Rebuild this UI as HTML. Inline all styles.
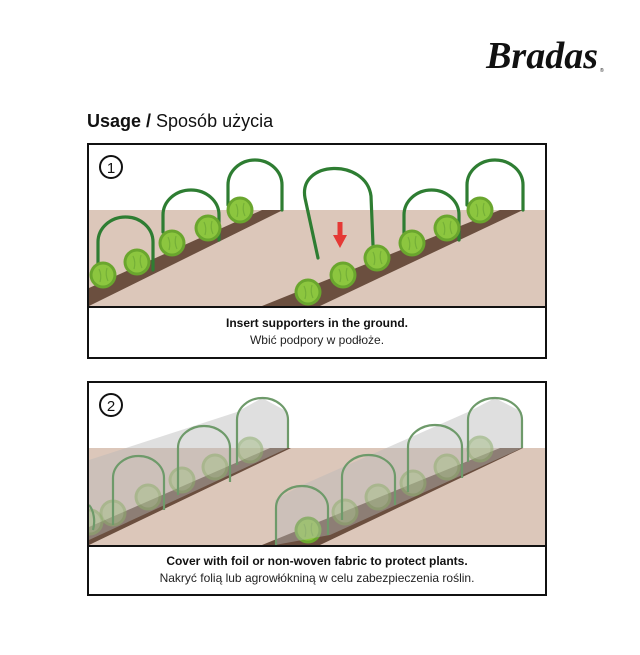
<!DOCTYPE html>
<html><head><meta charset="utf-8"><style>
body{margin:0;background:#fff;width:640px;height:650px;overflow:hidden;font-family:"Liberation Sans",sans-serif}
</style></head><body>
<svg width="640" height="650" viewBox="0 0 640 650" xmlns="http://www.w3.org/2000/svg">
<defs>
<g id="cab"><circle r="13.5" fill="#6aa62e"/><circle r="10.5" fill="#8cc63f"/><path d="M-4,-6 Q-1,0 -3,7 M4,-7 Q2,0 5,6" stroke="#75b038" stroke-width="1.2" fill="none"/></g>
<g id="cabf" opacity="0.55"><circle r="13.5" fill="#6aa62e"/><circle r="10.5" fill="#9cc66a"/></g>
<clipPath id="c2"><rect x="89" y="383" width="456" height="162"/></clipPath>
</defs>
<text x="598" y="68" text-anchor="end" font-family="Liberation Serif,serif" font-style="italic" font-weight="bold" font-size="38" fill="#111">Bradas</text>
<text x="600" y="72" font-size="5" fill="#111">®</text>
<text x="87" y="127" font-size="18" fill="#111"><tspan font-weight="bold">Usage /</tspan> Sposób użycia</text>

<!-- Box 1 -->
<rect x="88" y="144" width="458" height="214" fill="#fff" stroke="#111" stroke-width="2"/>
<rect x="89" y="210" width="456" height="96" fill="#dcc7ba"/>
<polygon points="89,288 262,210 283,210 89,306" fill="#6b4f3f"/>
<polygon points="262,306 320,306 523,210 500,210" fill="#6b4f3f"/>
<line x1="88" y1="307" x2="546" y2="307" stroke="#111" stroke-width="2"/>
<circle cx="111" cy="167" r="11" fill="none" stroke="#111" stroke-width="2"/><text x="111" y="173" text-anchor="middle" font-size="15" fill="#111">1</text>
<g fill="none" stroke="#2e7d32" stroke-width="3.2" stroke-linecap="round">
<path d="M98,263 V242 A27.5,25 0 0 1 153,242 V270"/>
<path d="M163,232 V215 A28,25 0 0 1 219,215 V240"/>
<path d="M228,205 V185 A27,25 0 0 1 282,185 V210"/>
<path d="M318,258 L305,198 C298,160 366,158 371,196 L373,245"/>
<path d="M404,234 V215 A27.5,25 0 0 1 459,215 V240"/>
<path d="M467,205 V185 A28,25 0 0 1 523,185 V210"/>
</g>
<use href="#cab" x="103" y="275"/><use href="#cab" x="137" y="262"/><use href="#cab" x="172" y="243"/><use href="#cab" x="208" y="228"/><use href="#cab" x="240" y="210"/>
<use href="#cab" x="308" y="292"/><use href="#cab" x="343" y="275"/><use href="#cab" x="377" y="258"/><use href="#cab" x="412" y="243"/><use href="#cab" x="447" y="228"/><use href="#cab" x="480" y="210"/>
<rect x="337.5" y="222" width="5" height="14" fill="#e53935"/><polygon points="333,235 347,235 340,248" fill="#e53935"/>
<text x="317" y="327" text-anchor="middle" font-size="12" font-weight="bold" fill="#111">Insert supporters in the ground.</text>
<text x="317" y="344" text-anchor="middle" font-size="12" fill="#222">Wbić podpory w podłoże.</text>

<!-- Box 2 -->
<rect x="88" y="382" width="458" height="213" fill="#fff" stroke="#111" stroke-width="2"/>
<g clip-path="url(#c2)">
<rect x="89" y="448" width="456" height="97" fill="#dcc7ba"/>
<polygon points="89,527 270,448 291,448 89,545" fill="#6b4f3f"/>
<polygon points="262,545 320,545 523,448 500,448" fill="#6b4f3f"/>
<use href="#cabf" x="90" y="522"/><use href="#cabf" x="113" y="513"/><use href="#cabf" x="148" y="497"/><use href="#cabf" x="182" y="480"/><use href="#cabf" x="215" y="467"/><use href="#cabf" x="250" y="450"/>
<use href="#cab" x="308" y="530"/><use href="#cabf" x="345" y="512"/><use href="#cabf" x="378" y="497"/><use href="#cabf" x="413" y="483"/><use href="#cabf" x="447" y="467"/><use href="#cabf" x="480" y="449"/>
<polygon points="89,460 237,412 262,398 288,412 288,448 89,540" fill="#b8b8b8" opacity="0.45"/>
<polygon points="275,545 275,500 300,486 468,412 495,398 522,412 522,448 330,535" fill="#b8b8b8" opacity="0.45"/>
<g fill="none" stroke="#6e9a6a" stroke-width="2.2">
<path d="M89,505 A12,20 0 0 1 93,530"/>
<path d="M113,525 V478 A25.5,22 0 0 1 164,478 V510"/>
<path d="M178,495 V448 A26,22 0 0 1 230,448 V482"/>
<path d="M237,465 V420 A25.5,22 0 0 1 288,420 V448"/>
<path d="M276,545 V508 A26,22 0 0 1 328,508 V535"/>
<path d="M342,520 V477 A26.5,22 0 0 1 395,477 V505"/>
<path d="M408,492 V447 A27,22 0 0 1 462,447 V478"/>
<path d="M468,462 V420 A27,22 0 0 1 522,420 V448"/>
</g>
</g>
<line x1="88" y1="546" x2="546" y2="546" stroke="#111" stroke-width="2"/>
<circle cx="111" cy="405" r="11" fill="none" stroke="#111" stroke-width="2"/><text x="111" y="411" text-anchor="middle" font-size="15" fill="#111">2</text>
<text x="317" y="565" text-anchor="middle" font-size="12" font-weight="bold" fill="#111">Cover with foil or non-woven fabric to protect plants.</text>
<text x="317" y="582" text-anchor="middle" font-size="12" fill="#222">Nakryć folią lub agrowłókniną w celu zabezpieczenia roślin.</text>
</svg>
</body></html>
